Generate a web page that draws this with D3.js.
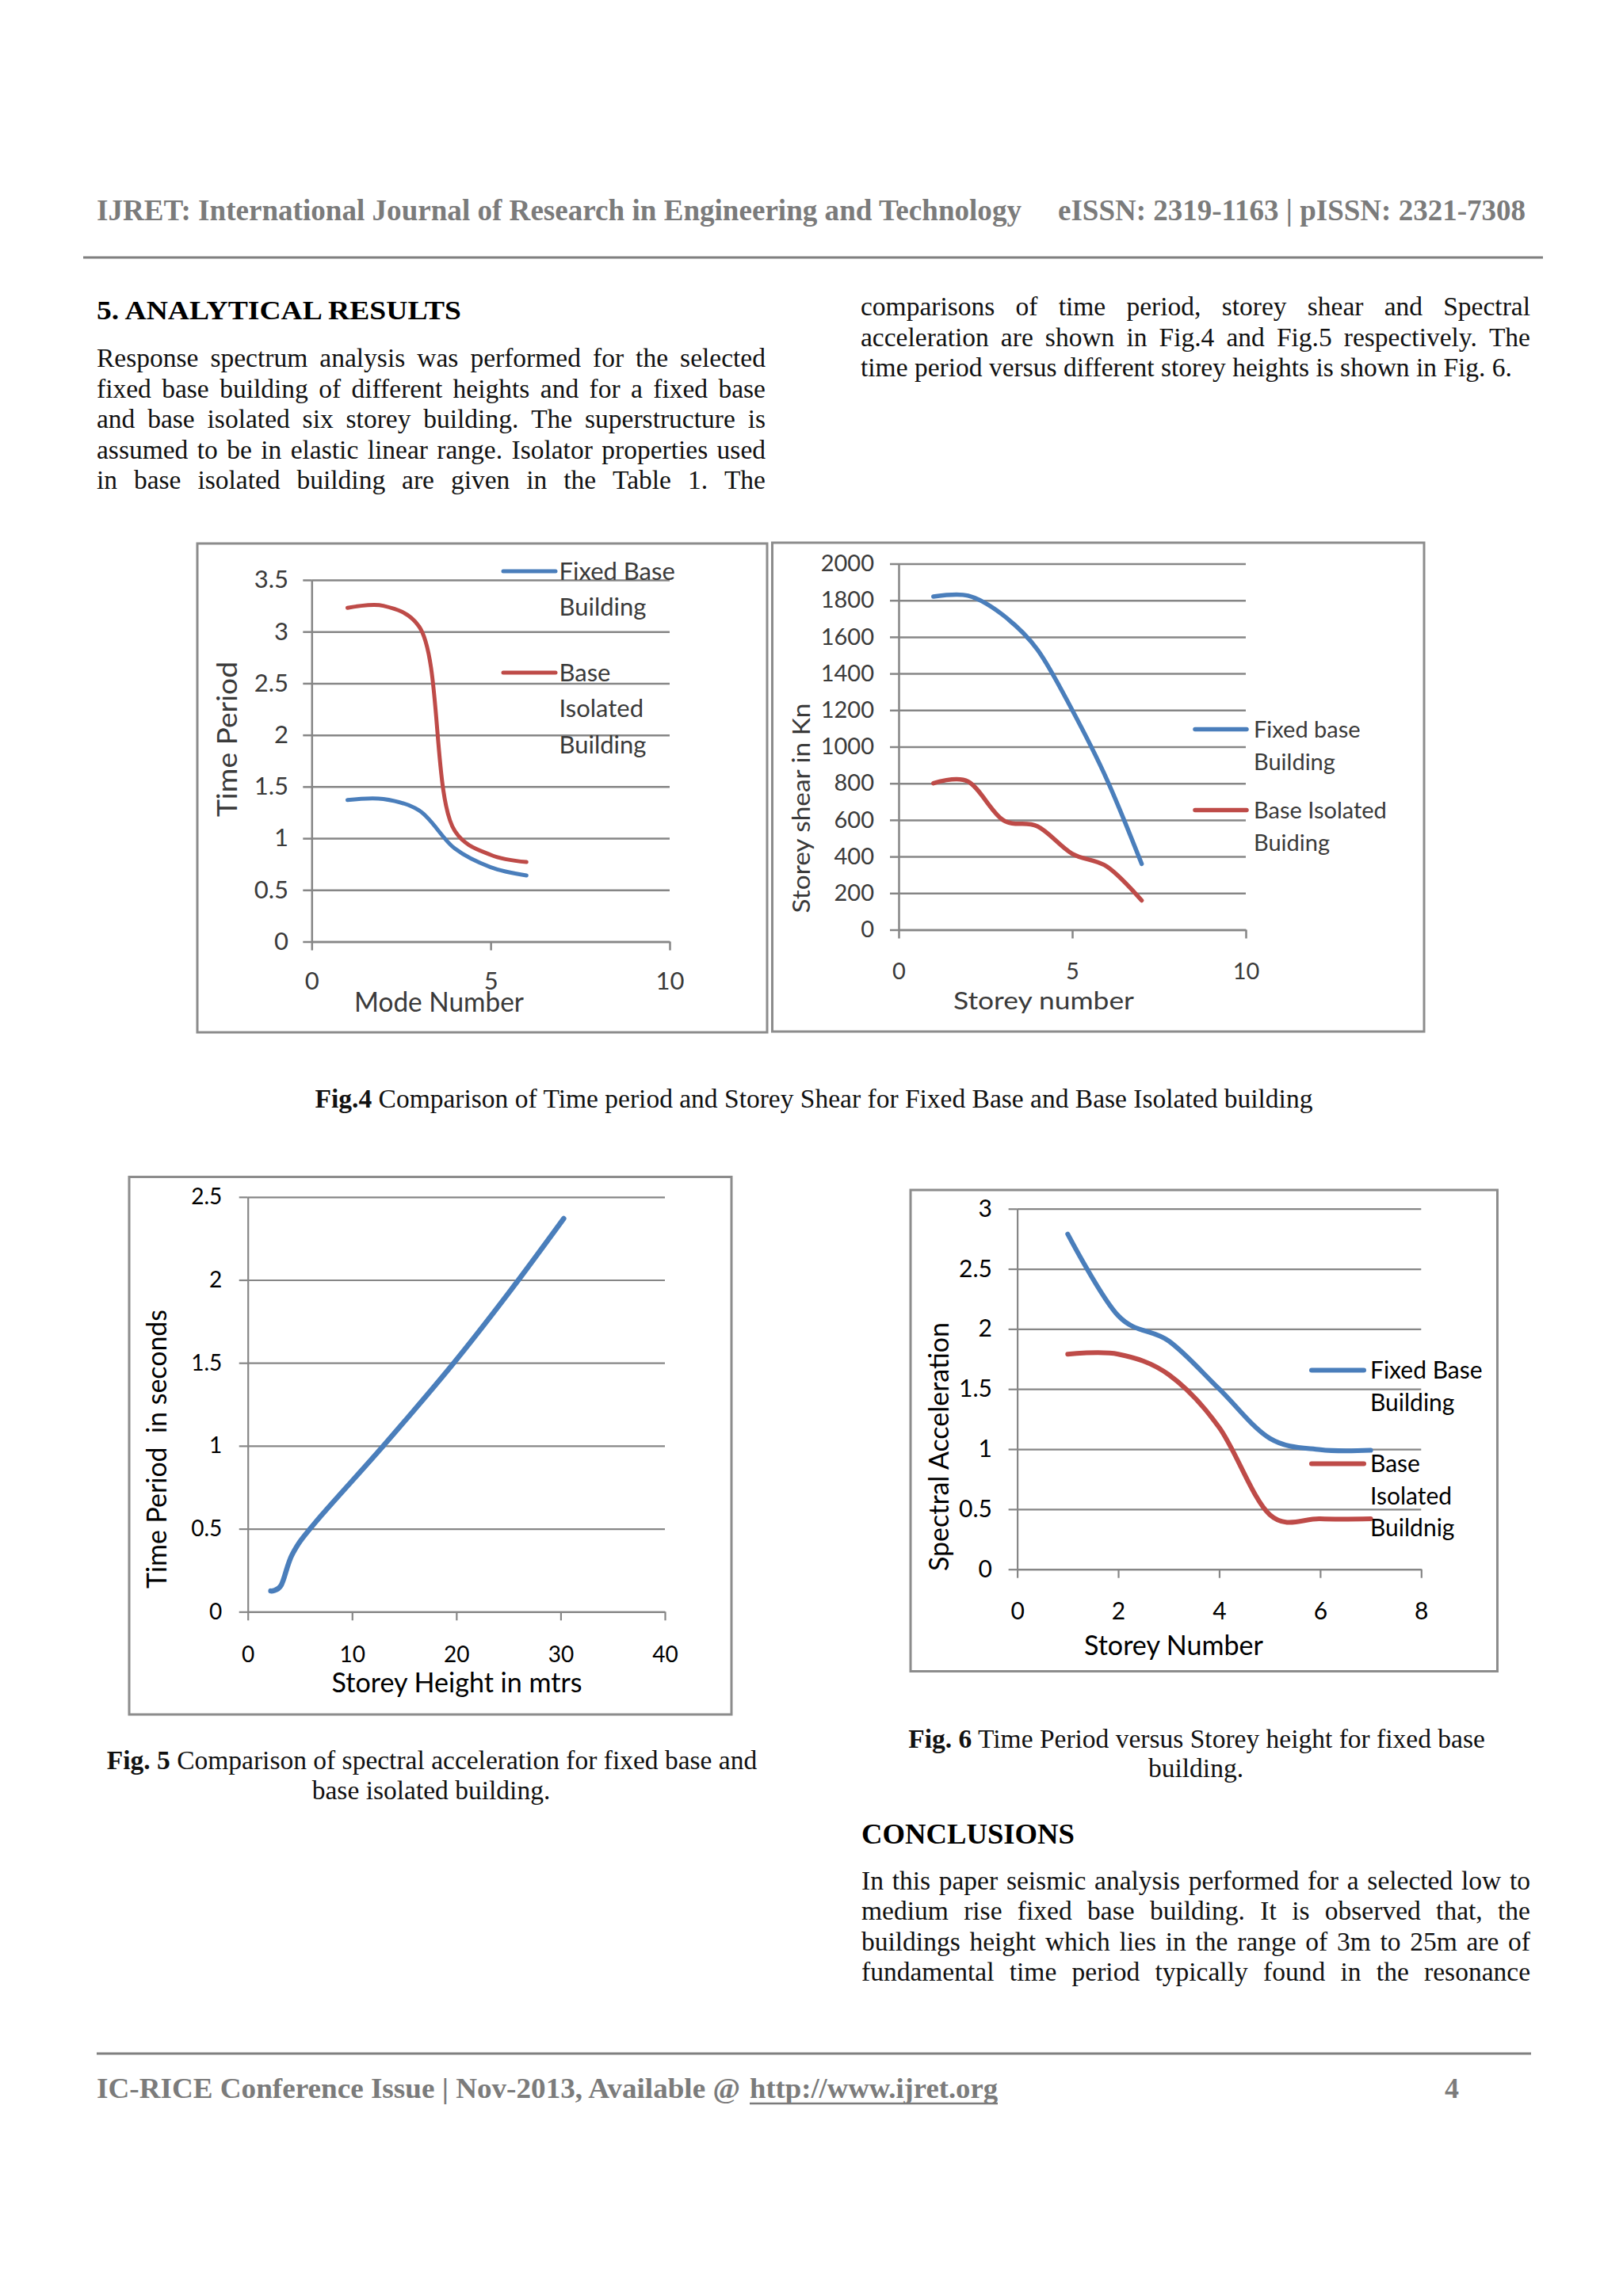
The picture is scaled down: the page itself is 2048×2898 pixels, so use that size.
<!DOCTYPE html>
<html><head><meta charset="utf-8">
<script src="https://cdn.jsdelivr.net/npm/d3@7"></script>
<style>body{margin:0;background:#fff}svg{display:block}</style>
</head><body>
<svg id="page" width="2048" height="2898" xmlns="http://www.w3.org/2000/svg"></svg>
<script>
// ---------- DATA ----------
const modeNumbers = [1, 2, 3, 4, 5, 6];
const periodFixed = [1.37, 1.38, 1.27, 0.90, 0.72, 0.64];
const periodIsolated = [3.23, 3.25, 3.05, 1.07, 0.84, 0.77];

const shearStoreys = [1, 2, 3, 4, 5, 6, 7];
const shearFixed = [1820, 1825, 1720, 1530, 1200, 820, 360];
const shearIsolated = [800, 810, 600, 565, 415, 345, 160];

const storeyHeights = [2.2, 3.2, 4.3, 6.5, 13, 19.5, 25, 30.3];
const periodByHeight = [0.125, 0.16, 0.35, 0.54, 1.0, 1.48, 1.92, 2.37];

const accelStoreys = [1, 2, 3, 4, 5, 6, 7];
const accelFixed = [2.79, 2.11, 1.90, 1.50, 1.09, 0.995, 0.99];
const accelIsolated = [1.79, 1.79, 1.62, 1.18, 0.455, 0.42, 0.42];

const ticksModeX = [0, 5, 10];
const ticksPeriodY = [0, 0.5, 1, 1.5, 2, 2.5, 3, 3.5];
const ticksShearX = [0, 5, 10];
const ticksShearY = [0, 200, 400, 600, 800, 1000, 1200, 1400, 1600, 1800, 2000];
const ticksHeightX = [0, 10, 20, 30, 40];
const ticksHeightY = [0, 0.5, 1, 1.5, 2, 2.5];
const ticksAccelX = [0, 2, 4, 6, 8];
const ticksAccelY = [0, 0.5, 1, 1.5, 2, 2.5, 3];

// ---------- PAGE ----------
const svg = d3.select('#page');
svg.append('rect').attr('width', 2048).attr('height', 2898).attr('fill', '#fff');
const BLUE = '#4A7EBB', RED = '#BE4B48';
const SERIF = "'Liberation Serif','Times New Roman',serif";
const SANS = "Lato,'Open Sans',sans-serif";
const BODY = 33.5;

function txt(x, y, s, o) {
  const t = svg.append('text').attr('x', x).attr('y', y)
    .attr('font-family', o.family || SERIF).attr('font-size', o.size)
    .attr('font-weight', o.weight || 'normal').attr('fill', o.fill || '#111')
    .attr('text-anchor', o.anchor || 'start').text(s);
  if (o.len) t.attr('textLength', o.len).attr('lengthAdjust', o.adjust || 'spacingAndGlyphs');
  return t;
}

function line(x0, x1, y, s, justify) {
  const words = s.split(' ');
  const nodes = words.map(w => svg.append('text').attr('y', y)
    .attr('font-family', SERIF).attr('font-size', BODY).attr('fill', '#111').text(w));
  const widths = nodes.map(n => n.node().getComputedTextLength());
  const total = d3.sum(widths);
  const gap = justify && words.length > 1 ? (x1 - x0 - total) / (words.length - 1) : BODY * 0.25;
  let x = x0;
  nodes.forEach((n, i) => { n.attr('x', x); x += widths[i] + gap; });
}

// header
txt(122, 278, 'IJRET: International Journal of Research in Engineering and Technology',
  {size: 37, weight: 'bold', fill: '#7b7b7b', len: 1167});
txt(1335, 278, 'eISSN: 2319-1163 | pISSN: 2321-7308', {size: 37, weight: 'bold', fill: '#7b7b7b', len: 590});
svg.append('line').attr('x1', 105).attr('x2', 1947).attr('y1', 325).attr('y2', 325)
  .attr('stroke', '#808080').attr('stroke-width', 3);

// section heading & paragraphs
txt(122, 403, '5. ANALYTICAL RESULTS', {size: 33, weight: 'bold', fill: '#000', len: 460});
const leftLines = [
  'Response spectrum analysis was performed for the selected',
  'fixed base building of different heights and for a fixed base',
  'and base isolated six storey building. The superstructure is',
  'assumed to be in elastic linear range. Isolator properties used',
  'in base isolated building are given in the Table 1. The'
];
leftLines.forEach((s, i) => line(122, 966, 463.3 + i * 38.4, s, true));
const rightLines = [
  'comparisons of time period, storey shear and Spectral',
  'acceleration are shown in Fig.4 and Fig.5 respectively. The',
  'time period versus different storey heights is shown in Fig. 6.'
];
rightLines.forEach((s, i) => line(1086, 1931, 398.3 + i * 38.4, s, i < 2));

// captions
function caption(cx, y, bold, rest) {
  const t = svg.append('text').attr('x', cx).attr('y', y).attr('text-anchor', 'middle')
    .attr('font-family', SERIF).attr('font-size', BODY).attr('fill', '#111');
  if (bold) t.append('tspan').attr('font-weight', 'bold').text(bold);
  t.append('tspan').text(rest);
}
caption(1027, 1398, 'Fig.4', ' Comparison of Time period and Storey Shear for Fixed Base and Base Isolated building');
caption(545, 2232.7, 'Fig. 5', ' Comparison of spectral acceleration for fixed base and');
caption(544, 2270.7, null, 'base isolated building.');
caption(1510, 2206, 'Fig. 6', ' Time Period versus Storey height for fixed base');
caption(1509, 2242.7, null, 'building.');

txt(1087, 2326.7, 'CONCLUSIONS', {size: 35, weight: 'bold', fill: '#000', len: 269});
const conclLines = [
  'In this paper seismic analysis performed for a selected low to',
  'medium rise fixed base building. It is observed that, the',
  'buildings height which lies in the range of 3m to 25m are of',
  'fundamental time period typically found in the resonance'
];
conclLines.forEach((s, i) => line(1087, 1931, 2385 + i * 38.4, s, true));

// footer
svg.append('line').attr('x1', 122).attr('x2', 1932).attr('y1', 2592).attr('y2', 2592)
  .attr('stroke', '#808080').attr('stroke-width', 3);
txt(122, 2648, 'IC-RICE Conference Issue | Nov-2013, Available @', {size: 36, weight: 'bold', fill: '#7b7b7b', len: 812});
txt(946, 2648, 'http://www.ijret.org', {size: 36, weight: 'bold', fill: '#7b7b7b', len: 313});
svg.append('line').attr('x1', 946).attr('x2', 1259).attr('y1', 2655).attr('y2', 2655)
  .attr('stroke', '#7b7b7b').attr('stroke-width', 2.5);
txt(1823, 2648, '4', {size: 36, weight: 'bold', fill: '#7b7b7b'});

// ---------- CHARTS ----------
function drawChart(c) {
  const g = svg.append('g');
  g.append('rect').attr('x', c.box[0]).attr('y', c.box[1])
    .attr('width', c.box[2] - c.box[0]).attr('height', c.box[3] - c.box[1])
    .attr('fill', '#fff').attr('stroke', '#8c8c8c').attr('stroke-width', 3);
  const x = d3.scaleLinear().domain(c.xDomain).range(c.xRange);
  const y = d3.scaleLinear().domain(c.yDomain).range(c.yRange);
  const w = c.xRange[1] - c.xRange[0];
  const x0 = c.xRange[0], y0 = c.yRange[0];

  g.append('g').attr('transform', `translate(${x0},0)`)
    .call(d3.axisLeft(y).tickValues(c.yTicks).tickSize(-w).tickFormat('').tickSizeOuter(0))
    .call(s => s.select('.domain').remove())
    .call(s => s.selectAll('line').attr('stroke', '#868686').attr('stroke-width', c.gridW));

  const ya = g.append('g').attr('transform', `translate(${x0},0)`)
    .call(d3.axisLeft(y).tickValues(c.yTicks).tickSize(11).tickSizeOuter(0)
      .tickPadding(x0 - c.yLabelRight - 11).tickFormat(d => String(d)));
  const xa = g.append('g').attr('transform', `translate(0,${y0})`)
    .call(d3.axisBottom(x).tickValues(c.xTicks).tickSize(11).tickSizeOuter(0).tickFormat(d => String(d)));
  [ya, xa].forEach(a => {
    a.attr('font-family', SANS).attr('font-size', c.tickSize);
    a.select('.domain').attr('stroke', '#868686').attr('stroke-width', c.gridW);
    a.selectAll('.tick line').attr('stroke', '#868686').attr('stroke-width', c.gridW);
    a.selectAll('text').attr('fill', c.textFill);
  });
  xa.selectAll('text').attr('y', c.xLabelY - y0).attr('dy', '0.35em');

  // titles
  g.append('text').attr('x', c.xTitle[0]).attr('y', c.xTitle[1]).attr('dy', '0.35em')
    .attr('text-anchor', 'middle').attr('font-family', SANS).attr('font-size', c.titleSize)
    .attr('fill', c.textFill).attr('textLength', c.xTitle[2]).attr('lengthAdjust', 'spacingAndGlyphs')
    .style('white-space', 'pre').text(c.xTitleText);
  g.append('text').attr('transform', `translate(${c.yTitle[0]},${c.yTitle[1]}) rotate(-90)`)
    .attr('dy', '0.35em').attr('text-anchor', 'middle').attr('font-family', SANS)
    .attr('font-size', c.titleSize).attr('fill', c.textFill)
    .attr('textLength', c.yTitle[2]).attr('lengthAdjust', 'spacingAndGlyphs')
    .style('white-space', 'pre').text(c.yTitleText);

  const path = d3.line().x(d => x(d[0])).y(d => y(d[1])).curve(c.curve || d3.curveCardinal.tension(0));
  c.series.forEach(s => {
    g.append('path').datum(d3.zip(s.xs, s.ys)).attr('d', path).attr('fill', 'none')
      .attr('stroke', s.color).attr('stroke-width', c.lineW).attr('stroke-linecap', 'round')
      .attr('stroke-linejoin', 'round');
  });

  if (c.legend) {
    c.legend.forEach(L => {
      g.append('line').attr('x1', c.legendLine[0]).attr('x2', c.legendLine[1])
        .attr('y1', L.y).attr('y2', L.y).attr('stroke', L.color).attr('stroke-width', c.lineW)
        .attr('stroke-linecap', 'round');
      L.lines.forEach((s, i) => {
        g.append('text').attr('x', c.legendText).attr('y', L.y + i * c.legendStep).attr('dy', '0.35em')
          .attr('font-family', SANS).attr('font-size', c.legendSize).attr('fill', c.textFill).text(s);
      });
    });
  }
}

// Fig.4 left: Time Period vs Mode Number
drawChart({
  box: [249, 686, 968, 1303],
  xDomain: [0, 10], xRange: [393.3, 845], yDomain: [0, 3.5], yRange: [1188.5, 732],
  xTicks: ticksModeX, yTicks: ticksPeriodY, yLabelRight: 364, xLabelY: 1238.5,
  tickSize: 31, titleSize: 34, textFill: '#3a3a3a', gridW: 2.5, lineW: 5,
  curve: d3.curveCatmullRom.alpha(0.5),
  xTitleText: 'Mode Number', xTitle: [554, 1265, 214],
  yTitleText: 'Time Period', yTitle: [287, 933, 196],
  series: [
    {xs: modeNumbers, ys: periodFixed, color: BLUE},
    {xs: modeNumbers, ys: periodIsolated, color: RED}
  ],
  legendLine: [635, 701], legendText: 705.5, legendStep: 45.5, legendSize: 31,
  legend: [
    {y: 721, color: BLUE, lines: ['Fixed Base', 'Building']},
    {y: 849, color: RED, lines: ['Base', 'Isolated', 'Building']}
  ]
});

// Fig.4 right: Storey shear
drawChart({
  box: [974.5, 685, 1797, 1302],
  xDomain: [0, 10], xRange: [1134, 1572], yDomain: [0, 2000], yRange: [1173.5, 711.5],
  xTicks: ticksShearX, yTicks: ticksShearY, yLabelRight: 1103, xLabelY: 1226.3,
  tickSize: 29, titleSize: 31, textFill: '#3a3a3a', gridW: 2.5, lineW: 5.5,
  xTitleText: 'Storey number', xTitle: [1317, 1263, 228],
  yTitleText: 'Storey shear in Kn', yTitle: [1011, 1020, 265],
  series: [
    {xs: shearStoreys, ys: shearFixed, color: BLUE},
    {xs: shearStoreys, ys: shearIsolated, color: RED}
  ],
  legendLine: [1508, 1573], legendText: 1582, legendStep: 41, legendSize: 29,
  legend: [
    {y: 920.5, color: BLUE, lines: ['Fixed base', 'Building']},
    {y: 1022.4, color: RED, lines: ['Base Isolated', 'Buiding']}
  ]
});

// Fig.5 (left bottom): Time period vs storey height
drawChart({
  box: [163, 1485.5, 923, 2164],
  xDomain: [0, 40], xRange: [312.7, 839], yDomain: [0, 2.5], yRange: [2034.3, 1510.8],
  xTicks: ticksHeightX, yTicks: ticksHeightY, yLabelRight: 280.3, xLabelY: 2087.8,
  tickSize: 28, titleSize: 34, textFill: '#000', gridW: 2.2, lineW: 6.5,
  xTitleText: 'Storey Height in mtrs', xTitle: [576.6, 2124.5, 316],
  yTitleText: 'Time Period  in seconds', yTitle: [198.5, 1829, 352],
  series: [{xs: storeyHeights, ys: periodByHeight, color: BLUE}]
});

// Fig.6 (right bottom): Spectral acceleration
drawChart({
  box: [1149, 1502, 1889.5, 2109.5],
  xDomain: [0, 8], xRange: [1283.6, 1793.3], yDomain: [0, 3], yRange: [1980.7, 1525.7],
  xTicks: ticksAccelX, yTicks: ticksAccelY, yLabelRight: 1252, xLabelY: 2033.2,
  tickSize: 30, titleSize: 34, textFill: '#000', gridW: 2.2, lineW: 6,
  xTitleText: 'Storey Number', xTitle: [1481, 2076.8, 226],
  yTitleText: 'Spectral Acceleration', yTitle: [1185, 1826, 314],
  series: [
    {xs: accelStoreys, ys: accelFixed, color: BLUE},
    {xs: accelStoreys, ys: accelIsolated, color: RED}
  ],
  legendLine: [1655, 1721], legendText: 1729, legendStep: 40.5, legendSize: 30,
  legend: [
    {y: 1729.5, color: BLUE, lines: ['Fixed Base', 'Building']},
    {y: 1847.5, color: RED, lines: ['Base', 'Isolated', 'Buildnig']}
  ]
});
</script>
</body></html>
